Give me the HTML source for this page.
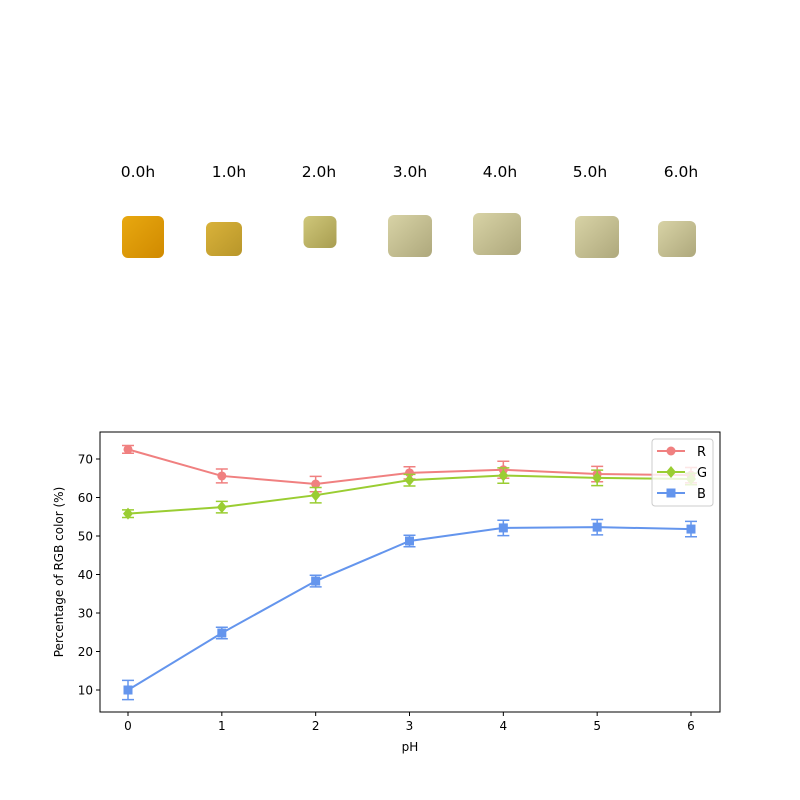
<!DOCTYPE html>
<html><head><meta charset="utf-8"><style>
html,body{margin:0;padding:0;background:#fff;}
svg{display:block;font-family:"DejaVu Sans","Liberation Sans",sans-serif;}
</style></head><body>
<svg id="fig" width="800" height="800" viewBox="0 0 800 800">
<defs>
<linearGradient id="g0" x1="0" y1="0" x2="1" y2="1"><stop offset="0" stop-color="#e8a810"/><stop offset="1" stop-color="#d08a00"/></linearGradient>
<linearGradient id="g1" x1="0" y1="0" x2="1" y2="1"><stop offset="0" stop-color="#d9b23a"/><stop offset="1" stop-color="#b8962a"/></linearGradient>
<linearGradient id="g2" x1="0" y1="0" x2="1" y2="1"><stop offset="0" stop-color="#cfc77a"/><stop offset="1" stop-color="#a89d50"/></linearGradient>
<linearGradient id="g3" x1="0" y1="0" x2="1" y2="1"><stop offset="0" stop-color="#d8d3a6"/><stop offset="1" stop-color="#aea87c"/></linearGradient>
</defs>
<g id="photos"></g>
<g id="chart"></g>
</svg>
<script>
const NS='http://www.w3.org/2000/svg';
const timeLabels=['0.0h','1.0h','2.0h','3.0h','4.0h','5.0h','6.0h'];
const categories=[0,1,2,3,4,5,6];
const rValues=[72.5,65.6,63.5,66.4,67.2,66.1,65.8];
const rErrors=[1.0,1.8,2.0,1.6,2.2,2.0,2.0];
const gValues=[55.8,57.5,60.6,64.5,65.7,65.1,64.8];
const gErrors=[1.0,1.5,2.0,1.5,2.0,2.0,1.5];
const bValues=[10.0,24.8,38.3,48.7,52.1,52.3,51.8];
const bErrors=[2.5,1.5,1.5,1.5,2.0,2.0,2.0];
const yTicks=[10,20,30,40,50,60,70];
const xTicks=[0,1,2,3,4,5,6];

function mk(tag,attrs,parent){const e=document.createElementNS(NS,tag);for(const k in attrs)e.setAttribute(k,attrs[k]);parent.appendChild(e);return e;}

// photos
const photos=document.getElementById('photos');
const pCx=[143,224,320,410,497,597,677],pW=[42,36,33,44,48,44,38],pH=[42,34,32,42,42,42,36],pCy=[237,239,232,236,234,237,239];
const pFill=['url(#g0)','url(#g1)','url(#g2)','url(#g3)','url(#g3)','url(#g3)','url(#g3)'];
timeLabels.forEach((t,i)=>{
  const lx=[138,229,319,410,500,590,681][i];
  const tx=mk('text',{x:lx,y:177,'text-anchor':'middle','font-size':15.5,fill:'#000'},photos);
  tx.textContent=t;
  
  
  const r=mk('rect',{x:pCx[i]-pW[i]/2,y:pCy[i]-pH[i]/2,width:pW[i],height:pH[i],rx:6,fill:pFill[i]},photos);
  
  
});

// chart
const c=document.getElementById('chart');
const L=100,R=720,T=432,B=712;
const xs=v=>128+v*(691-128)/6;
const ys=v=>459+(70-v)*(690-459)/60;
const frame=mk('rect',{x:L,y:T,width:R-L,height:B-T,fill:'none',stroke:'#000','stroke-width':1},c);


xTicks.forEach(v=>{
  mk('line',{x1:xs(v),x2:xs(v),y1:B,y2:B+4,stroke:'#000'},c);
  const t=mk('text',{x:xs(v),y:B+18,'text-anchor':'middle','font-size':12},c);t.textContent=v;
  
  
});
yTicks.forEach(v=>{
  mk('line',{x1:L-4,x2:L,y1:ys(v),y2:ys(v),stroke:'#000'},c);
  const t=mk('text',{x:L-7,y:ys(v)+4.5,'text-anchor':'end','font-size':12},c);t.textContent=v;
  
  
});
const xt=mk('text',{x:410,y:751,'text-anchor':'middle','font-size':12},c);xt.textContent='pH';


const yt=mk('text',{x:63,y:572,'text-anchor':'middle','font-size':12,transform:'rotate(-90 63 572)'},c);yt.textContent='Percentage of RGB color (%)';



function marker(g,type,x,y,col){
  if(type==='o')return mk('circle',{cx:x,cy:y,r:4.5,fill:col},g);
  if(type==='D')return mk('polygon',{points:`${x},${y-6} ${x+5},${y} ${x},${y+6} ${x-5},${y}`,fill:col},g);
  return mk('rect',{x:x-4.5,y:y-4.5,width:9,height:9,fill:col},g);
}
function series(name,vals,errs,col,type){
  const g=mk('g',{},c);
  
  
  mk('polyline',{points:vals.map((v,i)=>xs(categories[i])+','+ys(v)).join(' '),fill:'none',stroke:col,'stroke-width':2},g);
  vals.forEach((v,i)=>{
    const x=xs(categories[i]);
    mk('path',{d:`M${x},${ys(v+errs[i])}V${ys(v-errs[i])}M${x-6},${ys(v+errs[i])}H${x+6}M${x-6},${ys(v-errs[i])}H${x+6}`,stroke:col,'stroke-width':1.5,fill:'none'},g);
    const m=marker(g,type,x,ys(v),col);
    
    
  });
}
series('r',rValues,rErrors,'#f08080','o');
series('g',gValues,gErrors,'#9acd32','D');
series('b',bValues,bErrors,'#6495ed','s');

// legend
const lg=mk('g',{},c);


mk('rect',{x:652,y:439,width:61,height:67,rx:3,fill:'#fff','fill-opacity':0.8,stroke:'#ccc'},lg);
[['R','#f08080','o'],['G','#9acd32','D'],['B','#6495ed','s']].forEach((e,i)=>{
  const y=451+i*21;
  const eg=mk('g',{},lg);
  
  
  mk('line',{x1:657,x2:685,y1:y,y2:y,stroke:e[1],'stroke-width':2},eg);
  marker(eg,e[2],671,y,e[1]);
  const t=mk('text',{x:697,y:y+5,'font-size':13},eg);t.textContent=e[0];
});
</script>
</body></html>
